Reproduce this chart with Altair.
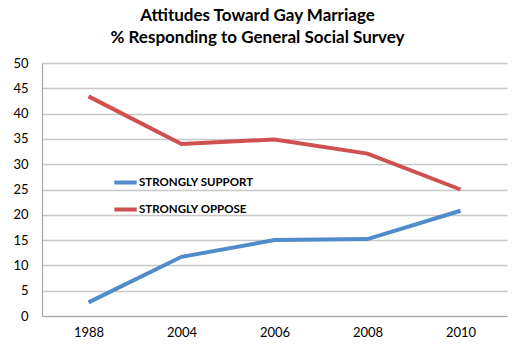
import altair as alt
import pandas as pd

years = ["1988", "2004", "2006", "2008", "2010"]
support = [2.7, 11.7, 15.0, 15.2, 20.8]
oppose = [43.4, 34.0, 34.9, 32.1, 25.0]
series = ["Strongly Support", "Strongly Oppose"]
colors = ["#4F8CC9", "#D0504F"]
y_ticks = list(range(0, 51, 5))

rows = []
for name, vals in zip(series, [support, oppose]):
    for yr, v in zip(years, vals):
        rows.append({"Year": yr, "Value": v, "Series": name})
df = pd.DataFrame(rows)

chart = alt.Chart(df).mark_line(strokeWidth=4, strokeCap="butt", strokeJoin="miter").encode(
    x=alt.X("Year:O", sort=years, title=None,
            axis=alt.Axis(labelAngle=0, ticks=False, labelPadding=10, grid=False,
                          domainColor="#A6A6A6", domainWidth=1.2,
                          labelFont="Lato", labelFontSize=13, labelColor="#000000")),
    y=alt.Y("Value:Q", title=None,
            scale=alt.Scale(domain=[0, 50], nice=False),
            axis=alt.Axis(values=y_ticks, ticks=False, labelPadding=14,
                          gridColor="#C8C8C8", gridWidth=1.5,
                          domainColor="#A6A6A6", domainWidth=1.2,
                          labelFont="Lato", labelFontSize=13, labelColor="#000000")),
    color=alt.Color("Series:N", sort=series,
                    scale=alt.Scale(domain=series, range=colors),
                    legend=alt.Legend(title=None, orient="none", legendX=70, legendY=106,
                                      symbolType="stroke", symbolStrokeWidth=4, symbolSize=500,
                                      labelOffset=0, rowPadding=5,
                                      labelExpr="upper(datum.label)",
                                      labelFont="Lato", labelFontSize=11.5, labelFontWeight="bold",
                                      labelColor="#000000")),
).properties(
    width=465,
    height=253,
    title=alt.TitleParams(
        text=["Attitudes Toward Gay Marriage", "% Responding to General Social Survey"],
        font="Lato", fontSize=17, fontWeight="bold", color="#000000",
        lineHeight=22, anchor="middle", dx=-17, offset=10,
    ),
    autosize=alt.AutoSizeParams(type="none"),
    padding={"left": 42, "top": 63, "right": 14, "bottom": 36},
).configure_view(stroke=None)

chart.save("out.html", embed_options={"renderer": "svg", "actions": False})
